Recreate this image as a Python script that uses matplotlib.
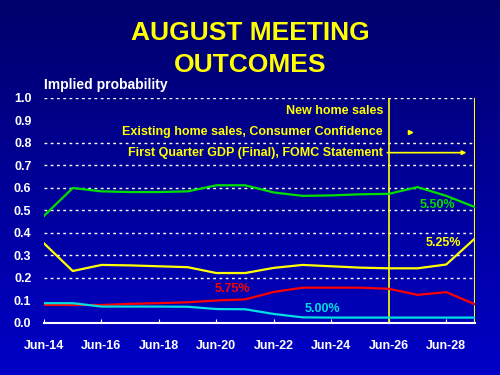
import numpy as np
import matplotlib
matplotlib.use("Agg")
import matplotlib.pyplot as plt

plt.rcParams['font.family'] = ['Liberation Sans', 'DejaVu Sans']

days = list(range(14, 30))
tick_days = [14, 16, 18, 20, 22, 24, 26, 28]
tick_labels = ["Jun-%d" % d for d in tick_days]

p550 = [0.476, 0.600, 0.585, 0.582, 0.582, 0.585, 0.612, 0.612,
        0.580, 0.565, 0.567, 0.572, 0.574, 0.604, 0.565, 0.515]
p525 = [0.354, 0.231, 0.258, 0.256, 0.252, 0.248, 0.222, 0.222,
        0.245, 0.258, 0.252, 0.246, 0.243, 0.243, 0.260, 0.376]
p575 = [0.080, 0.080, 0.080, 0.085, 0.088, 0.092, 0.100, 0.105,
        0.138, 0.157, 0.157, 0.157, 0.152, 0.125, 0.137, 0.083]
p500 = [0.088, 0.088, 0.073, 0.073, 0.073, 0.072, 0.062, 0.061,
        0.040, 0.025, 0.024, 0.024, 0.024, 0.024, 0.024, 0.024]

grid_levels = [0.2, 0.3, 0.4, 0.5, 0.6, 0.7, 0.8, 1.0]
ytick_vals = [0.0, 0.1, 0.2, 0.3, 0.4, 0.5, 0.6, 0.7, 0.8, 0.9, 1.0]

events = ["New home sales",
          "Existing home sales, Consumer Confidence",
          "First Quarter GDP (Final), FOMC Statement"]
event_y = [0.942, 0.849, 0.757]

fig = plt.figure(figsize=(5, 3.75), dpi=100)

# gradient background
bg = fig.add_axes([0, 0, 1, 1], zorder=-1)
grad = np.linspace(0, 1, 256).reshape(-1, 1)
top = np.array([0.0, 0.0, 0.42])
bot = np.array([0.0, 0.0, 0.78])
img = top + (bot - top) * grad[..., None]
bg.imshow(img, aspect='auto', extent=[0, 1, 0, 1], origin='upper')
bg.axis('off')

fig.text(0.5, 0.912, "AUGUST MEETING", ha='center', va='center',
         color='#ffff00', fontsize=19, fontweight='bold')
fig.text(0.5, 0.827, "OUTCOMES", ha='center', va='center',
         color='#ffff00', fontsize=19, fontweight='bold')

ax = fig.add_axes([0.088, 0.1387, 0.862, 0.6])
ax.set_facecolor('none')
ax.set_xlim(14, 29)
ax.set_ylim(0, 1.0)

for g in grid_levels:
    ax.axhline(g, color='white', lw=1, ls=(0, (2, 2.5)), zorder=1)

ax.plot(days, p550, color='#00e000', lw=1.6, zorder=3)
ax.plot(days, p525, color='#ffff00', lw=1.6, zorder=3)
ax.plot(days, p575, color='#ff0000', lw=1.6, zorder=3)
ax.plot(days, p500, color='#00e0e0', lw=1.6, zorder=3)

ax.axvline(26, color='#ffff00', lw=1.2, zorder=2)
ax.axvline(29, color='#ffff00', lw=1.5, zorder=2)

for s in ['top', 'right', 'left']:
    ax.spines[s].set_visible(False)
ax.spines['bottom'].set_color('white')
ax.spines['bottom'].set_linewidth(1.5)

ax.set_xticks(tick_days)
ax.set_xticklabels(tick_labels)
ax.set_yticks(ytick_vals)
ax.set_yticklabels(["%.1f" % v for v in ytick_vals])
ax.tick_params(axis='x', direction='in', length=3, color='white',
               labelcolor='white', labelsize=9, pad=12)
ax.tick_params(axis='y', length=0, labelcolor='white', labelsize=9, pad=9)
for lbl in ax.get_xticklabels() + ax.get_yticklabels():
    lbl.set_fontweight('bold')

ax.text(14, 1.025, "Implied probability", color='white', fontsize=10,
        fontweight='bold', ha='left', va='bottom')

for txt, y in zip(events, event_y):
    ax.text(25.8, y, txt, color='#ffff00', fontsize=9, fontweight='bold',
            ha='right', va='center')
ax.plot([26.75], [0.849], marker='>', color='#ffff00', markersize=3)
ax.annotate("", xy=(28.8, 0.757), xytext=(25.85, 0.757),
            arrowprops=dict(arrowstyle='-|>', color='#ffff00', lw=1.2,
                            mutation_scale=6))

ax.text(27.7, 0.524, "5.50%", color='#00e000', fontsize=9,
        fontweight='bold', ha='center', va='center')
ax.text(27.9, 0.356, "5.25%", color='#ffff00', fontsize=9,
        fontweight='bold', ha='center', va='center')
ax.text(20.55, 0.151, "5.75%", color='#ff0000', fontsize=9,
        fontweight='bold', ha='center', va='center')
ax.text(23.7, 0.062, "5.00%", color='#00e0e0', fontsize=9,
        fontweight='bold', ha='center', va='center')

fig.savefig("out.png", dpi=100)
